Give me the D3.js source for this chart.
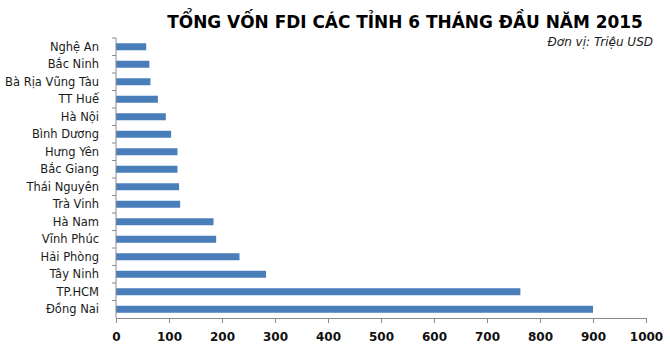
<html>
<style>
body { margin: 0; background: #fff; }
.axis path, .axis line { stroke: #8c8c8c; }
.ylab { font-family: "DejaVu Sans", sans-serif; font-size: 11.5px; fill: #1a1a1a; }
.xlab { font-family: "DejaVu Sans", sans-serif; font-size: 12px; font-weight: bold; fill: #111; }
</style>
<svg width="670" height="350"></svg>
<script src="https://d3js.org/d3.v7.min.js"></script>
<script>

var provinces = ["Nghệ An", "Bắc Ninh", "Bà Rịa Vũng Tàu", "TT Huế", "Hà Nội", "Bình Dương",
                 "Hưng Yên", "Bắc Giang", "Thái Nguyên", "Trà Vinh", "Hà Nam", "Vĩnh Phúc",
                 "Hải Phòng", "Tây Ninh", "TP.HCM", "Đồng Nai"];
var fdi = [57, 63, 65, 79, 94, 104, 116, 116, 119, 121, 184, 189, 233, 283, 763, 900];
var xTicks = [0, 100, 200, 300, 400, 500, 600, 700, 800, 900, 1000];

var svg = d3.select("svg"),
    margin = {top: 38, right: 24, bottom: 32, left: 116},
    width = +svg.attr("width") - margin.left - margin.right,
    height = +svg.attr("height") - margin.top - margin.bottom,
    g = svg.append("g").attr("transform", "translate(" + margin.left + "," + margin.top + ")");

var rows = provinces.map(function(p, i) { return {name: p, value: fdi[i]}; });

var x = d3.scaleLinear().domain([0, 1000]).range([0, width]);
var y = d3.scaleBand().domain(provinces).range([0, height]).paddingInner(0.6).paddingOuter(0.3);

// bars
g.selectAll("rect.bar")
  .data(rows)
  .enter().append("rect")
    .attr("class", "bar")
    .attr("x", 0)
    .attr("y", function(d) { return y(d.name); })
    .attr("width", function(d) { return x(d.value); })
    .attr("height", y.bandwidth())
    .attr("fill", "#4a7ebb");

// x axis
var xAxis = g.append("g")
    .attr("class", "axis")
    .attr("transform", "translate(0," + height + ")")
    .call(d3.axisBottom(x).tickValues(xTicks).tickFormat(d3.format("d"))
      .tickSize(5).tickSizeOuter(0).tickPadding(9));
xAxis.selectAll("text").attr("class", "xlab").attr("font-family", null).attr("font-size", null);

// y axis: line + ticks between categories, labels centered
var step = y.step();
var yAxis = g.append("g").attr("class", "axis");
yAxis.append("line").attr("x1", 0).attr("x2", 0).attr("y1", 0).attr("y2", height);
yAxis.selectAll("line.tick")
  .data(provinces)
  .enter().append("line")
    .attr("class", "tick")
    .attr("x1", -4).attr("x2", 0)
    .attr("y1", function(d) { return y(d) - step * 0.3; })
    .attr("y2", function(d) { return y(d) - step * 0.3; });
yAxis.selectAll("text")
  .data(provinces)
  .enter().append("text")
    .attr("class", "ylab")
    .attr("x", -17)
    .attr("y", function(d) { return y(d) + y.bandwidth() / 2; })
    .attr("dy", "0.35em")
    .attr("text-anchor", "end")
    .text(function(d) { return d; });

// title
var title = svg.append("text")
    .attr("x", 405).attr("y", 28)
    .attr("text-anchor", "middle")
    .attr("font-family", "'DejaVu Sans', sans-serif")
    .attr("font-weight", "bold")
    .attr("font-size", 20)
    .attr("fill", "#000")
    .text("TỔNG VỐN FDI CÁC TỈNH 6 THÁNG ĐẦU NĂM 2015");
var tw = title.node().getComputedTextLength();
title.attr("font-size", 20 * 476 / tw);

svg.append("text")
    .attr("x", 653).attr("y", 46)
    .attr("text-anchor", "end")
    .attr("font-family", "'DejaVu Sans', sans-serif")
    .attr("font-style", "italic")
    .attr("font-size", 12)
    .attr("fill", "#222")
    .text("Đơn vị: Triệu USD");

</script>
</html>
